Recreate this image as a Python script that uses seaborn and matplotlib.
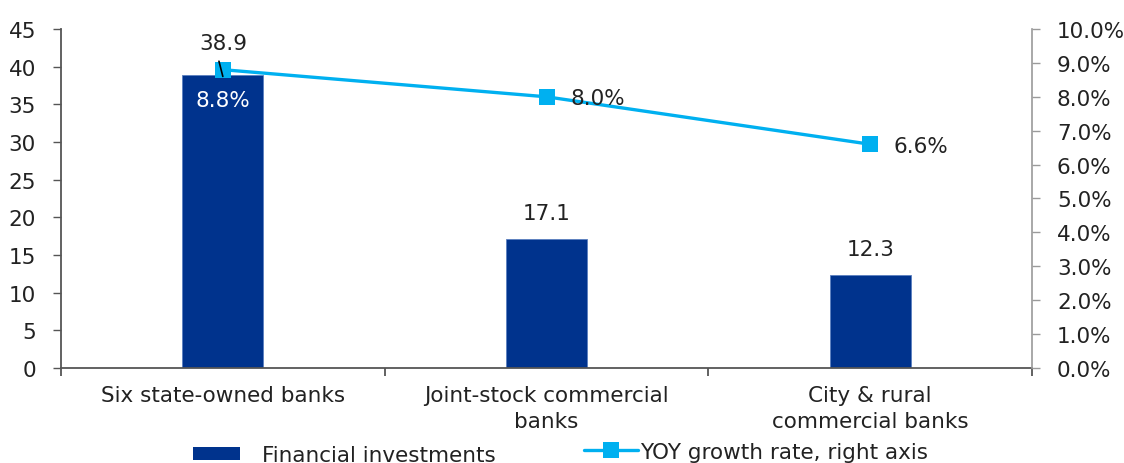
import matplotlib
matplotlib.use("Agg")
import matplotlib.pyplot as plt
import seaborn as sns
import pandas as pd
from matplotlib.patches import Patch
from matplotlib.lines import Line2D
from matplotlib.ticker import FixedLocator, PercentFormatter

# Data
categories = ["Six state-owned banks", "Joint-stock commercial\nbanks", "City & rural\ncommercial banks"]
investments = [38.9, 17.1, 12.3]          # RMB trn, left axis
growth = [8.8, 8.0, 6.6]                  # YoY %, right axis

bar_label = "Financial investments"
line_label = "YOY growth rate, right axis"

BAR_COLOR = "#00338D"
LINE_COLOR = "#00B0F0"
TEXT = "#222222"
FS = 15.5

sns.set_theme(style="white")
plt.rcParams["font.family"] = ["DejaVu Sans"]
plt.rcParams["font.size"] = FS

fig = plt.figure(figsize=(11.24, 4.64), dpi=100)
ax = fig.add_axes([61 / 1124, 1 - 369 / 464, (1032 - 61) / 1124, (369 - 30) / 464])

df = pd.DataFrame({"category": categories, "value": investments})
sns.barplot(data=df, x="category", y="value", color=BAR_COLOR, width=0.25,
            saturation=1, ax=ax, edgecolor="#5a7fc0", linewidth=0.6)

ax.set_xlim(-0.5, 2.5)
ax.set_ylim(0, 45)
ax.set_yticks(range(0, 50, 5))
ax.set_xlabel("")
ax.set_ylabel("")

for s in ["top", "right"]:
    ax.spines[s].set_visible(False)
for s in ["left", "bottom"]:
    ax.spines[s].set_color("#555555")
    ax.spines[s].set_linewidth(1.3)

ax.tick_params(axis="y", which="major", direction="out", length=6, width=1,
               color="#555555", labelsize=FS, labelcolor=TEXT, pad=12, left=True)
ax.xaxis.set_minor_locator(FixedLocator([-0.5, 0.5, 1.5, 2.5]))
ax.tick_params(axis="x", which="minor", direction="out", length=6, width=1.3,
               color="#555555", bottom=True)
ax.tick_params(axis="x", which="major", length=0, labelsize=FS, labelcolor=TEXT, pad=12)
for lab in ax.get_xticklabels():
    lab.set_linespacing(1.4)

# Value labels above bars
for i, v in enumerate(investments):
    dy = 23 if i == 0 else 19
    ax.annotate(f"{v:.1f}", xy=(i, v), xytext=(0, dy), textcoords="offset points",
                ha="center", va="center", fontsize=FS, color=TEXT)

# Growth line on the secondary axis
ax2 = ax.twinx()
sns.lineplot(x=list(range(len(growth))), y=growth, ax=ax2, color=LINE_COLOR,
             linewidth=2.4, marker="s", markersize=11, markeredgewidth=0,
             markerfacecolor=LINE_COLOR)
ax2.set_ylim(0, 10)
ax2.yaxis.set_major_locator(FixedLocator([i for i in range(0, 11)]))
ax2.yaxis.set_major_formatter(PercentFormatter(decimals=1))
ax2.set_xlim(-0.5, 2.5)
ax2.grid(False)
for s in ["top", "left", "bottom"]:
    ax2.spines[s].set_visible(False)
ax2.spines["right"].set_color("#9a9a9a")
ax2.spines["right"].set_linewidth(1.2)
ax2.tick_params(axis="y", direction="out", length=6, width=1, color="#9a9a9a",
                labelsize=FS, labelcolor=TEXT, pad=12, right=True)

# Growth labels
ax2.annotate(f"{growth[0]:.1f}%", xy=(0, growth[0]), xytext=(0, -22),
             textcoords="offset points", ha="center", va="center",
             fontsize=FS, color="white")
ax2.plot([-0.012, 0.0], [growth[0] + 0.25, growth[0] - 0.2], color="black", lw=1.2)
for i in (1, 2):
    ax2.annotate(f"{growth[i]:.1f}%", xy=(i, growth[i]), xytext=(17, -1),
                 textcoords="offset points", ha="left", va="center",
                 fontsize=FS, color=TEXT)

# Legend entries along the bottom edge
h1 = Patch(facecolor=BAR_COLOR, edgecolor="none")
fig.legend(handles=[h1], labels=[bar_label], loc="center left",
           bbox_to_anchor=(193 / 1124, 1 - 456 / 464), frameon=False,
           borderpad=0, borderaxespad=0, handlelength=2.2, handleheight=0.6,
           handletextpad=1.0, fontsize=FS, labelcolor=TEXT)
h2 = Line2D([], [], color=LINE_COLOR, lw=2.4, marker="s", markersize=11,
            markeredgewidth=0)
fig.legend(handles=[h2], labels=[line_label], loc="center left",
           bbox_to_anchor=(584 / 1124, 1 - 453 / 464), frameon=False,
           borderpad=0, borderaxespad=0, handlelength=2.5,
           handletextpad=0.1, fontsize=FS, labelcolor=TEXT)

fig.savefig("out.png", dpi=100)
